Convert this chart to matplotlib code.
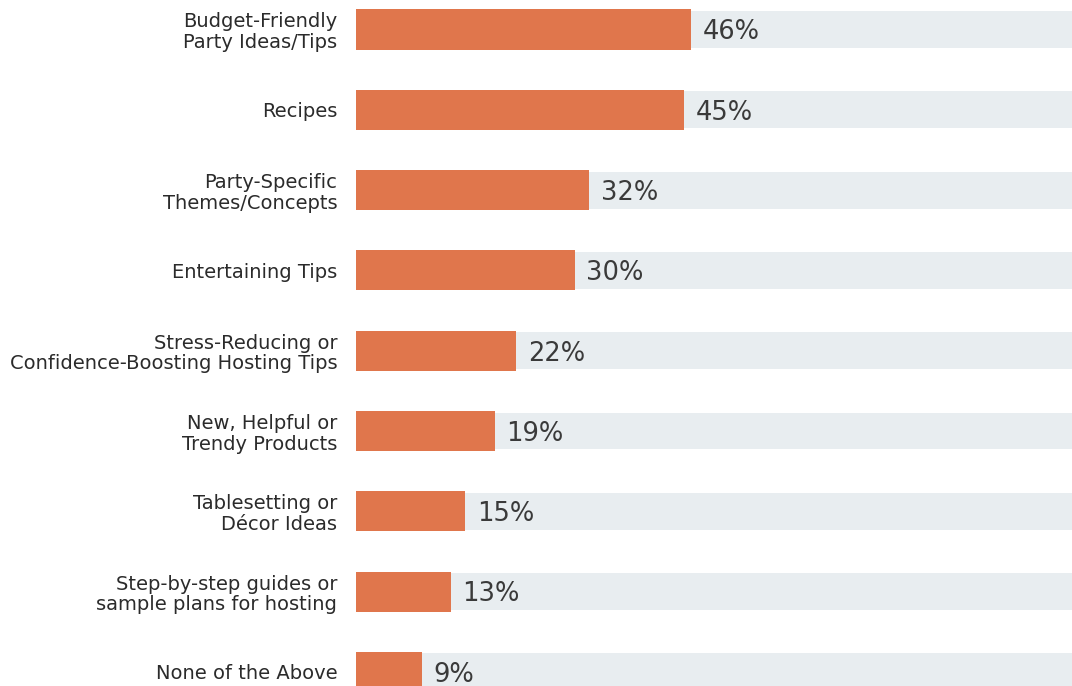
import matplotlib
matplotlib.use("Agg")
import matplotlib.pyplot as plt

categories = [
    "Budget-Friendly\nParty Ideas/Tips",
    "Recipes",
    "Party-Specific\nThemes/Concepts",
    "Entertaining Tips",
    "Stress-Reducing or\nConfidence-Boosting Hosting Tips",
    "New, Helpful or\nTrendy Products",
    "Tablesetting or\nDécor Ideas",
    "Step-by-step guides or\nsample plans for hosting",
    "None of the Above",
]
values = [46, 45, 32, 30, 22, 19, 15, 13, 9]

plt.rcParams['font.family'] = ['DejaVu Sans']

fig = plt.figure(figsize=(10.72, 6.86), dpi=100)
ax = fig.add_axes([356/1072, 0, 1 - 356/1072, 1])

ypos = list(range(len(categories)))
ax.barh(ypos, [100]*len(values), height=0.46, color="#E8EDF0", linewidth=0)
ax.barh(ypos, values, height=0.5, color="#E0764C", linewidth=0)

for y, v in zip(ypos, values):
    ax.text(v + 1.6, y + 0.035, f"{v}%", va="center", ha="left", fontsize=18.5, color="#3a3a3a")

ax.set_xlim(0, 98.2)
ax.set_ylim(8.175, -0.367)
ax.set_yticks(ypos)
ax.set_yticklabels(categories, fontsize=14, color="#2b2b2b", ha="right", linespacing=1.1)
ax.tick_params(axis="y", length=0, pad=13.5)
ax.set_xticks([])
for s in ax.spines.values():
    s.set_visible(False)

fig.savefig("out.png", dpi=100, facecolor="white")
